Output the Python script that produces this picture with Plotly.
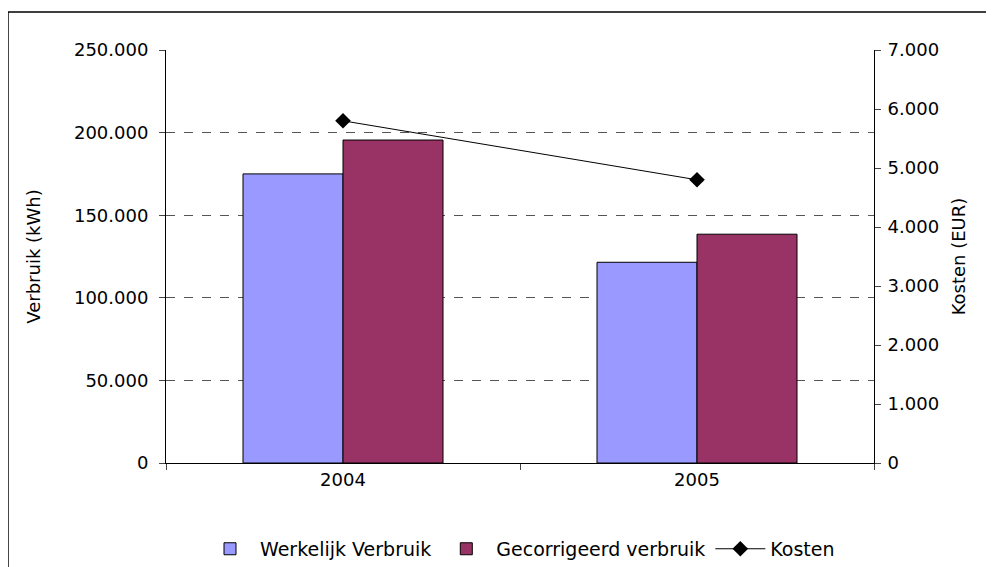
import plotly.graph_objects as go

jaren = ["2004", "2005"]
werkelijk_verbruik = [175000, 121500]
gecorrigeerd_verbruik = [195500, 138500]
kosten = [5800, 4800]

FONT = "DejaVu Sans"

fig = go.Figure()
fig.add_trace(go.Bar(x=jaren, y=werkelijk_verbruik, name="Werkelijk Verbruik",
                     marker=dict(color="#9999FF", line=dict(color="black", width=1))))
fig.add_trace(go.Bar(x=jaren, y=gecorrigeerd_verbruik, name="Gecorrigeerd verbruik",
                     marker=dict(color="#993366", line=dict(color="black", width=1))))
fig.add_trace(go.Scatter(x=jaren, y=kosten, name="Kosten", yaxis="y2", mode="lines+markers",
                         line=dict(color="black", width=1),
                         marker=dict(symbol="diamond", size=12, color="black")))

# page body has an 8px margin, so the figure is laid out 8px up/left of the reference
fig.update_layout(
    width=994, height=567,
    margin=dict(l=158, r=128, t=42, b=112, autoexpand=False),
    plot_bgcolor="white", paper_bgcolor="white",
    separators=",.",
    font=dict(family=FONT, size=18, color="black"),
    barmode="group", bargap=0.435, bargroupgap=0,
    xaxis=dict(type="category", tickson="boundaries", ticks="outside", ticklen=6,
               showline=True, linecolor="black", linewidth=1, showgrid=False,
               tickfont=dict(size=18)),
    yaxis=dict(title=dict(text="Verbruik (kWh)", font=dict(size=18), standoff=28),
               range=[0, 250000], dtick=50000, tickformat=",d",
               ticks="outside", ticklen=6, ticklabelstandoff=7,
               showline=True, linecolor="black",
               showgrid=True, gridcolor="#555555", griddash="dash", gridwidth=1,
               zeroline=False),
    yaxis2=dict(title=dict(text="Kosten (EUR)", font=dict(size=18), standoff=14),
                overlaying="y", side="right", range=[0, 7000], dtick=1000, tickformat=",d",
                ticks="outside", ticklen=6, ticklabelstandoff=3,
                showline=True, linecolor="black",
                showgrid=False, zeroline=False),
    legend=dict(orientation="h", x=0.5, xanchor="center", y=-0.208, yanchor="middle",
                font=dict(family=FONT, size=19), itemwidth=50,
                traceorder="normal"),
    shapes=[dict(type="rect", xref="paper", yref="paper",
                 x0=-0.2232, x1=1.2, y0=-0.3, y1=1.092,
                 line=dict(color="black", width=1.5), fillcolor="rgba(0,0,0,0)", layer="below")],
)

fig.write_html("out.html")
